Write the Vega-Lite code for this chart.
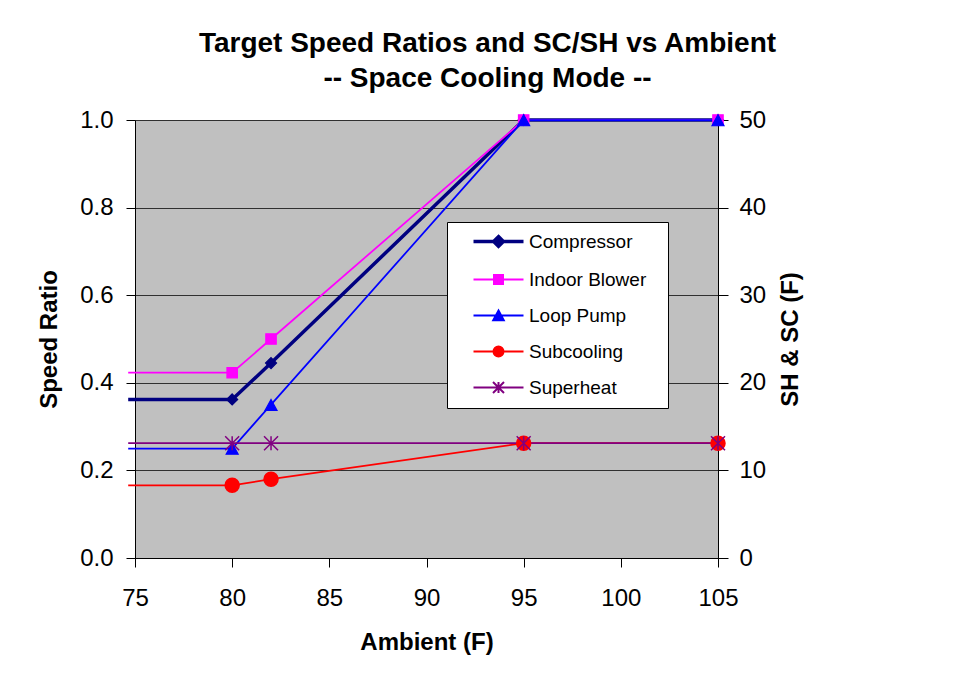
{
  "$schema": "https://vega.github.io/schema/vega-lite/v6.json",
  "width": 583,
  "height": 438,
  "autosize": "none",
  "padding": {"left": 135, "top": 120, "right": 251, "bottom": 129},
  "background": "white",
  "title": {
    "text": ["Target Speed Ratios and SC/SH vs Ambient", "-- Space Cooling Mode --"],
    "font": "Liberation Sans",
    "fontSize": 28,
    "fontWeight": "bold",
    "color": "black",
    "anchor": "middle",
    "frame": "group",
    "dx": 61,
    "lineHeight": 35,
    "baseline": "alphabetic",
    "offset": -7
  },
  "config": {
    "font": "Liberation Sans",
    "view": {"fill": "#C0C0C0", "stroke": "#808080", "strokeWidth": 1},
    "axis": {
      "labelFont": "Liberation Sans",
      "labelFontSize": 24,
      "labelColor": "black",
      "titleFont": "Liberation Sans",
      "titleFontSize": 24,
      "titleFontWeight": "bold",
      "titleColor": "black",
      "domainColor": "black",
      "domainWidth": 1,
      "tickColor": "black",
      "tickWidth": 1,
      "tickSize": 9
    },
    "legend": {
      "labelFont": "Liberation Sans",
      "labelFontSize": 19,
      "labelColor": "black",
      "labelLimit": 300
    }
  },
  "data": {
    "values": [
      {"Ambient": 74.65, "Series": "Compressor", "Value": 0.362},
      {"Ambient": 80, "Series": "Compressor", "Value": 0.362},
      {"Ambient": 82, "Series": "Compressor", "Value": 0.445},
      {"Ambient": 95, "Series": "Compressor", "Value": 1.0},
      {"Ambient": 105, "Series": "Compressor", "Value": 1.0},
      {"Ambient": 74.65, "Series": "Indoor Blower", "Value": 0.423},
      {"Ambient": 80, "Series": "Indoor Blower", "Value": 0.423},
      {"Ambient": 82, "Series": "Indoor Blower", "Value": 0.5},
      {"Ambient": 95, "Series": "Indoor Blower", "Value": 1.0},
      {"Ambient": 105, "Series": "Indoor Blower", "Value": 1.0},
      {"Ambient": 74.65, "Series": "Loop Pump", "Value": 0.25},
      {"Ambient": 80, "Series": "Loop Pump", "Value": 0.25},
      {"Ambient": 82, "Series": "Loop Pump", "Value": 0.35},
      {"Ambient": 95, "Series": "Loop Pump", "Value": 1.0},
      {"Ambient": 105, "Series": "Loop Pump", "Value": 1.0},
      {"Ambient": 74.65, "Series": "Subcooling", "Value": 8.3},
      {"Ambient": 80, "Series": "Subcooling", "Value": 8.3},
      {"Ambient": 82, "Series": "Subcooling", "Value": 9.0},
      {"Ambient": 95, "Series": "Subcooling", "Value": 13.1},
      {"Ambient": 105, "Series": "Subcooling", "Value": 13.1},
      {"Ambient": 74.65, "Series": "Superheat", "Value": 13.1},
      {"Ambient": 80, "Series": "Superheat", "Value": 13.1},
      {"Ambient": 82, "Series": "Superheat", "Value": 13.1},
      {"Ambient": 95, "Series": "Superheat", "Value": 13.1},
      {"Ambient": 105, "Series": "Superheat", "Value": 13.1}
    ]
  },
  "encoding": {
    "x": {
      "field": "Ambient",
      "type": "quantitative",
      "scale": {"domain": [75, 105], "nice": false, "zero": false},
      "axis": {
        "title": "Ambient (F)",
        "values": [75, 80, 85, 90, 95, 100, 105],
        "grid": false,
        "labelPadding": 19,
        "titlePadding": 20,
        "labelFlush": false
      }
    }
  },
  "layer": [
    {
      "transform": [{"filter": "datum.Series != 'Subcooling' && datum.Series != 'Superheat'"}],
      "encoding": {
        "y": {
          "field": "Value",
          "type": "quantitative",
          "scale": {"domain": [0, 1], "nice": false, "zero": true},
          "axis": {
            "orient": "left",
            "title": "Speed Ratio",
            "values": [0, 0.2, 0.4, 0.6, 0.8, 1.0],
            "format": ".1f",
            "grid": true,
            "gridColor": "#303030",
            "gridWidth": 1,
            "gridOpacity": 1,
            "labelPadding": 13,
            "titlePadding": 18,
            "labelFlush": false
          }
        }
      },
      "layer": [
        {
          "mark": {"type": "line", "clip": false},
          "encoding": {
            "stroke": {
              "field": "Series", "type": "nominal",
              "scale": {"domain": ["Compressor", "Indoor Blower", "Loop Pump", "Subcooling", "Superheat"], "range": ["#000080", "#FF00FF", "#0000FF", "#FF0000", "#800080"]},
              "legend": null
            },
            "strokeWidth": {
              "field": "Series", "type": "nominal",
              "scale": {"type": "ordinal", "domain": ["Compressor", "Indoor Blower", "Loop Pump", "Subcooling", "Superheat"], "range": [3.5, 1.75, 1.75, 1.75, 1.75]},
              "legend": null
            }
          }
        },
        {
          "transform": [{"filter": "datum.Ambient >= 80"}],
          "mark": {"type": "point", "size": 100, "strokeWidth": 1.2, "opacity": 1},
          "encoding": {
            "fill": {
              "field": "Series", "type": "nominal",
              "scale": {"domain": ["Compressor", "Indoor Blower", "Loop Pump", "Subcooling", "Superheat"], "range": ["#000080", "#FF00FF", "#0000FF", "#FF0000", "#800080"]},
              "legend": null
            },
            "stroke": {
              "field": "Series", "type": "nominal",
              "scale": {"domain": ["Compressor", "Indoor Blower", "Loop Pump", "Subcooling", "Superheat"], "range": ["#000080", "#FF00FF", "#0000FF", "#FF0000", "#800080"]},
              "legend": null
            },
            "shape": {
              "field": "Series", "type": "nominal",
              "scale": {
                "domain": ["Compressor", "Indoor Blower", "Loop Pump", "Subcooling", "Superheat"],
                "range": [
                  "M0,-1.1L1.1,0L0,1.1L-1.1,0Z",
                  "M-1.04,-1.04H1.04V1.04H-1.04Z",
                  "M0,-1.05L1.2,1.15L-1.2,1.15Z",
                  "M1.4,0A1.4,1.4 0 1,1 -1.4,0A1.4,1.4 0 1,1 1.4,0Z",
                  "M-1.4,-1.4L1.4,1.4M-1.4,1.4L1.4,-1.4M0,-1.4V1.4"
                ]
              },
              "legend": null
            }
          }
        }
      ]
    },
    {
      "transform": [{"filter": "datum.Series == 'Subcooling' || datum.Series == 'Superheat'"}],
      "encoding": {
        "y": {
          "field": "Value",
          "type": "quantitative",
          "scale": {"domain": [0, 50], "nice": false, "zero": true},
          "axis": {
            "orient": "right",
            "title": "SH & SC (F)",
            "titleAngle": 270,
            "titleBaseline": "top",
            "values": [0, 10, 20, 30, 40, 50],
            "grid": false,
            "tickSize": 10,
            "labelPadding": 11,
            "titlePadding": 13,
            "labelFlush": false
          }
        }
      },
      "layer": [
        {
          "mark": {"type": "line", "clip": false},
          "encoding": {
            "stroke": {
              "field": "Series", "type": "nominal",
              "scale": {"domain": ["Compressor", "Indoor Blower", "Loop Pump", "Subcooling", "Superheat"], "range": ["#000080", "#FF00FF", "#0000FF", "#FF0000", "#800080"]},
              "legend": null
            },
            "strokeWidth": {
              "field": "Series", "type": "nominal",
              "scale": {"type": "ordinal", "domain": ["Compressor", "Indoor Blower", "Loop Pump", "Subcooling", "Superheat"], "range": [3.5, 1.75, 1.75, 1.75, 1.75]},
              "legend": null
            }
          }
        },
        {
          "transform": [{"filter": "datum.Ambient >= 80"}],
          "mark": {"type": "point", "size": 100, "strokeWidth": 1.5, "opacity": 1},
          "encoding": {
            "fill": {
              "field": "Series", "type": "nominal",
              "scale": {"domain": ["Compressor", "Indoor Blower", "Loop Pump", "Subcooling", "Superheat"], "range": ["#000080", "#FF00FF", "#0000FF", "#FF0000", "#800080"]},
              "legend": null
            },
            "stroke": {
              "field": "Series", "type": "nominal",
              "scale": {"domain": ["Compressor", "Indoor Blower", "Loop Pump", "Subcooling", "Superheat"], "range": ["#000080", "#FF00FF", "#0000FF", "#FF0000", "#800080"]},
              "legend": null
            },
            "shape": {
              "field": "Series", "type": "nominal",
              "scale": {
                "domain": ["Compressor", "Indoor Blower", "Loop Pump", "Subcooling", "Superheat"],
                "range": [
                  "M0,-1.1L1.1,0L0,1.1L-1.1,0Z",
                  "M-1.04,-1.04H1.04V1.04H-1.04Z",
                  "M0,-1.05L1.2,1.15L-1.2,1.15Z",
                  "M1.4,0A1.4,1.4 0 1,1 -1.4,0A1.4,1.4 0 1,1 1.4,0Z",
                  "M-1.4,-1.4L1.4,1.4M-1.4,1.4L1.4,-1.4M0,-1.4V1.4"
                ]
              },
              "legend": null
            }
          }
        }
      ]
    },
    {
      "transform": [{"filter": "false"}],
      "mark": {"type": "point", "size": 100, "opacity": 1},
      "encoding": {
        "y": {"field": "Value", "type": "quantitative", "axis": null},
        "fill": {
          "field": "Series", "type": "nominal",
          "scale": {"domain": ["Compressor", "Indoor Blower", "Loop Pump", "Subcooling", "Superheat"], "range": ["#000080", "#FF00FF", "#0000FF", "#FF0000", "#800080"]},
          "legend": {
            "orient": "none", "legendX": 312, "legendY": 102, "title": null,
            "fillColor": "white", "strokeColor": "black", "padding": 10,
            "symbolSize": 100, "symbolOffset": 32, "labelOffset": 21, "rowPadding": 16
          }
        },
        "stroke": {
          "field": "Series", "type": "nominal",
          "scale": {"domain": ["Compressor", "Indoor Blower", "Loop Pump", "Subcooling", "Superheat"], "range": ["#000080", "#FF00FF", "#0000FF", "#FF0000", "#800080"]},
          "legend": {
            "orient": "none", "legendX": 312, "legendY": 102, "title": null,
            "fillColor": "white", "strokeColor": "black", "padding": 10,
            "symbolSize": 100, "symbolOffset": 32, "labelOffset": 21, "rowPadding": 16
          }
        },
        "strokeWidth": {
          "field": "Series", "type": "nominal",
          "scale": {"type": "ordinal", "domain": ["Compressor", "Indoor Blower", "Loop Pump", "Subcooling", "Superheat"], "range": [3.3, 2, 2, 2, 2]},
          "legend": {
            "orient": "none", "legendX": 312, "legendY": 102, "title": null,
            "fillColor": "white", "strokeColor": "black", "padding": 10,
            "symbolSize": 100, "symbolOffset": 32, "labelOffset": 21, "rowPadding": 16
          }
        },
        "shape": {
          "field": "Series", "type": "nominal",
          "scale": {
            "domain": ["Compressor", "Indoor Blower", "Loop Pump", "Subcooling", "Superheat"],
            "range": [
              "M-5,0H5M0,-1L1,0L0,1L-1,0ZM30.4,0",
              "M-5,0H5M-0.9,-0.9H0.9V0.9H-0.9Z",
              "M-5,0H5M0,-1L1.05,0.95L-1.05,0.95Z",
              "M-5,0H5M1,0A1,1 0 1,1 -1,0A1,1 0 1,1 1,0Z",
              "M-5,0H5M-1.1,-1.1L1.1,1.1M-1.1,1.1L1.1,-1.1M0,-1.1V1.1"
            ]
          },
          "legend": {
            "orient": "none", "legendX": 312, "legendY": 102, "title": null,
            "fillColor": "white", "strokeColor": "black", "padding": 10,
            "symbolSize": 100, "symbolOffset": 32, "labelOffset": 21, "rowPadding": 16
          }
        }
      }
    }
  ],
  "resolve": {
    "scale": {"y": "independent", "shape": "independent", "fill": "independent", "stroke": "independent", "strokeWidth": "independent"}
  }
}
